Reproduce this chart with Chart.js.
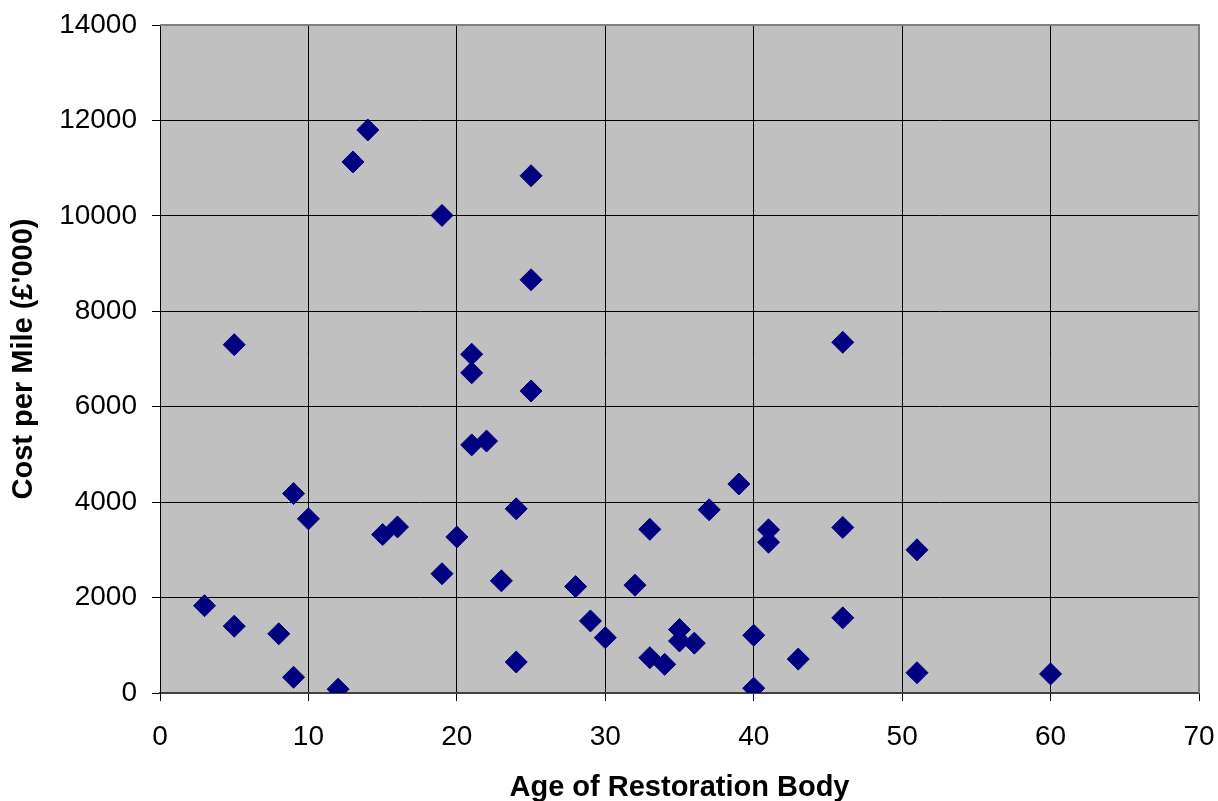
<!DOCTYPE html>
<html>
<head>
<meta charset="utf-8">
<script src="https://cdn.jsdelivr.net/npm/chart.js@4"></script>
<style>
  html, body { margin: 0; padding: 0; background: #fff; }
  #wrap { width: 1218px; height: 801px; }
</style>
</head>
<body>
<div id="wrap"><canvas id="costChart" width="1218" height="801"></canvas></div>
<script>
// age of restoration body (years)
const ages = [
    3, 5, 5, 8, 9, 9, 10, 12, 13, 14, 15, 16, 19, 19, 20,
    21, 21, 21, 22, 23, 24, 24, 25, 25, 25, 28, 29, 30, 32, 33,
    33, 34, 35, 35, 36, 37, 39, 40, 40, 41, 41, 43, 46, 46, 46,
    51, 51, 60
];
// cost per mile (£'000)
const costs = [
    1830, 7300, 1400, 1240, 4180, 330, 3650, 80, 11130, 11800, 3320, 3480, 10010, 2500, 3270,
    7100, 6710, 5200, 5280, 2350, 3860, 650, 10840, 8660, 6330, 2230, 1510, 1160, 2260, 3430,
    740, 600, 1330, 1090, 1045, 3840, 4380, 1210, 100, 3420, 3160, 710, 7350, 3470, 1575,
    3000, 425, 400
];
const xTicks = [0, 10, 20, 30, 40, 50, 60, 70];
const yTicks = [0, 2000, 4000, 6000, 8000, 10000, 12000, 14000];

const points = ages.map((a, i) => ({ x: a, y: costs[i] }));

const plotArea = {
    id: "plotArea",
    beforeDraw(chart) {
        const { ctx, chartArea: a } = chart;
        ctx.save();
        ctx.fillStyle = "#c0c0c0";
        ctx.fillRect(a.left, a.top, a.right - a.left, a.bottom - a.top);
        ctx.restore();
    },
    afterDatasetsDraw(chart) {
        const { ctx, chartArea: a } = chart;
        ctx.save();
        ctx.strokeStyle = "#808080";
        ctx.lineWidth = 2;
        ctx.beginPath();
        ctx.moveTo(a.left, a.top);
        ctx.lineTo(a.right, a.top);
        ctx.lineTo(a.right, a.bottom);
        ctx.stroke();
        ctx.restore();
    }
};

const tickFont = { family: "'Liberation Sans', Arial, sans-serif", size: 28 };
const titleFont = { family: "'Liberation Sans', Arial, sans-serif", size: 29, weight: "bold" };

new Chart(document.getElementById("costChart"), {
    type: "scatter",
    data: {
        datasets: [{
            data: points,
            pointStyle: "rectRot",
            pointRadius: 11,
            pointHoverRadius: 11,
            backgroundColor: "#000080",
            borderColor: "#000080",
            borderWidth: 1
        }]
    },
    options: {
        responsive: false,
        animation: false,
        events: [],
        layout: { padding: { top: 25, right: 19, bottom: 0, left: 0 } },
        plugins: { legend: { display: false }, tooltip: { enabled: false } },
        scales: {
            x: {
                type: "linear",
                min: 0,
                max: 70,
                afterBuildTicks: s => { s.ticks = xTicks.map(v => ({ value: v })); },
                afterFit: s => { s.height = 108; s.paddingLeft = 0; s.paddingRight = 0; },
                ticks: { color: "#000", font: tickFont, padding: 19, maxRotation: 0, callback: v => String(v) },
                grid: { color: "#000", lineWidth: 1, tickLength: 8, tickColor: "#000" },
                border: { color: "#404040", width: 2 },
                title: { display: true, text: "Age of Restoration Body", color: "#000", font: titleFont, padding: { top: 0, bottom: -4 } }
            },
            y: {
                type: "linear",
                min: 0,
                max: 14000,
                afterBuildTicks: s => { s.ticks = yTicks.map(v => ({ value: v })); },
                afterFit: s => { s.width = 160; s.paddingTop = 0; s.paddingBottom = 0; },
                ticks: { color: "#000", font: tickFont, padding: 15, callback: v => String(v) },
                grid: { color: "#000", lineWidth: 1, tickLength: 8, tickColor: "#000" },
                border: { color: "#000", width: 1 },
                title: { display: true, text: "Cost per Mile (£'000)", color: "#000", font: titleFont, padding: { top: 7, bottom: 0 } }
            }
        }
    },
    plugins: [plotArea]
});
</script>
</body>
</html>
